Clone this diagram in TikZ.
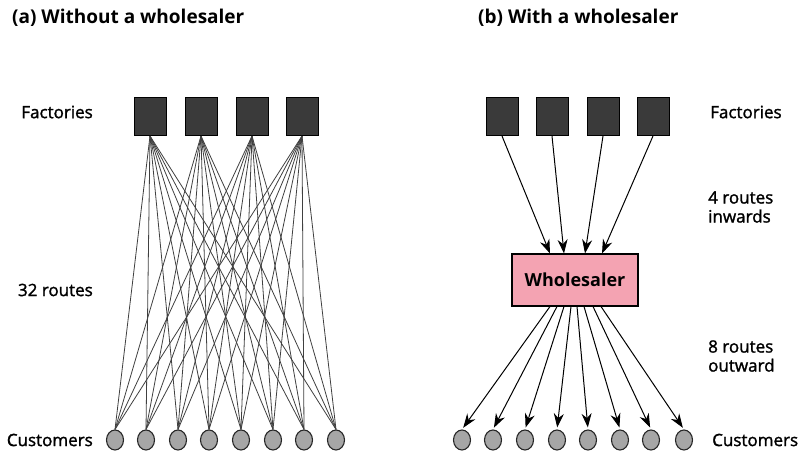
\documentclass[tikz,border=0pt]{standalone}
\usepackage{fontspec}
\setmainfont{Open Sans}
\newfontfamily\labelfont[FakeBold=1.5]{Open Sans}
\usetikzlibrary{arrows.meta,shapes.geometric}
\definecolor{factfill}{HTML}{3A3A3A}
\definecolor{custfill}{HTML}{A6A6A6}
\definecolor{boxpink}{HTML}{F4A3B2}
\definecolor{routegray}{HTML}{404040}
\begin{document}
\begin{tikzpicture}[x=1pt,y=-1pt,
  factory/.style={draw=black,line width=1pt,fill=factfill,minimum width=32pt,minimum height=38pt,inner sep=0pt},
  customer/.style={draw=black!85,line width=1.1pt,fill=custfill,ellipse,minimum width=17pt,minimum height=20pt,inner sep=0pt},
  lbl/.style={font=\labelfont\fontsize{17}{19}\selectfont,inner sep=0pt},
  ttl/.style={font=\fontsize{19}{20}\selectfont\bfseries,inner sep=0pt,anchor=west},
  route/.style={draw=routegray,line width=0.8pt},
  arr/.style={draw=black,line width=1pt,-{Stealth[length=14pt,width=10pt]}},
  whole/.style={draw=black,line width=2pt,fill=boxpink,minimum width=126pt,minimum height=51pt,font=\fontsize{18}{20}\selectfont\bfseries}
]
\useasboundingbox (0,0) rectangle (798,457);
\fill[white] (0,0) rectangle (798,457);

% titles
\node[ttl] (ta) at (12,18) {(a) Without a wholesaler};
\node[ttl] (tb) at (478,18) {(b) With a wholesaler};

% left labels
\node[lbl,anchor=east] (lf) at (93,112) {Factories};
\node[lbl,anchor=east] (lr) at (93,290) {32 routes};
\node[lbl,anchor=east] (lc) at (93,440) {Customers};

% right labels
\node[lbl,anchor=west,align=left] (rf) at (710,112) {Factories};
\node[lbl,anchor=west,align=left] (ri) at (708,207) {4 routes\\inwards};
\node[lbl,anchor=west,align=left] (ro) at (708,356) {8 routes\\outward};
\node[lbl,anchor=west] (rc) at (712,440) {Customers};

% left factories
\foreach \i/\x in {1/150,2/201,3/252,4/302}
  \node[factory] (fa\i) at (\x,116.5) {};
% left customers
\foreach \j/\x in {1/115,2/146,3/178,4/209,5/241,6/273,7/304,8/336}
  \node[customer] (ca\j) at (\x,440) {};
% 32 routes
\foreach \i in {1,...,4}
  \foreach \j in {1,...,8}
    \draw[route] (fa\i.south) -- (ca\j.north);

% right factories
\foreach \i/\x in {1/502,2/552,3/603,4/653}
  \node[factory] (fb\i) at (\x,116.5) {};
% wholesaler
\node[whole] (w) at (575,280) {Wholesaler};
% right customers
\foreach \j/\x in {1/462,2/493,3/525,4/557,5/588,6/620,7/651,8/684}
  \node[customer] (cb\j) at (\x,440) {};

% inward arrows
\foreach \i/\dx in {1/39,2/53,3/74,4/91}
  \draw[arr] (fb\i.south) -- ([xshift=\dx pt]w.north west);
% outward arrows
\foreach \j/\dx in {1/39,2/46,3/53,4/60,5/66,6/73,7/82,8/90}
  \draw[arr,shorten >=2pt] ([xshift=\dx pt]w.south west) -- (cb\j.north);
\end{tikzpicture}
\end{document}
